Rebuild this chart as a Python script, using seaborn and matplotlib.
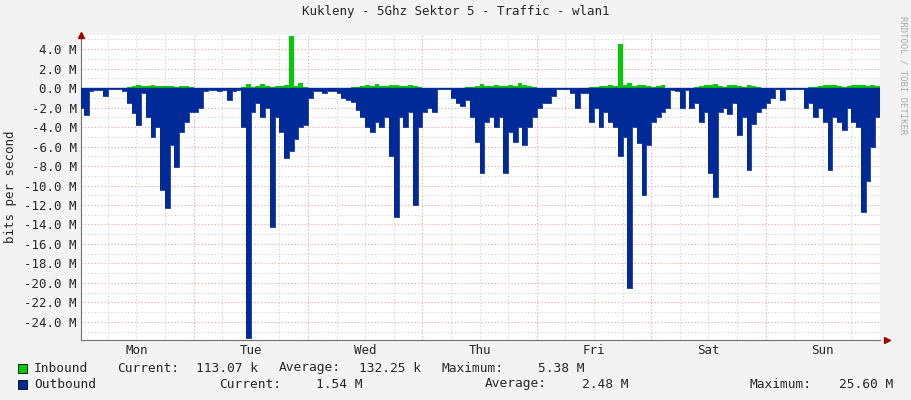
import numpy as np
import pandas as pd
import matplotlib
matplotlib.use("Agg")
import matplotlib.pyplot as plt
import seaborn as sns

title = "Kukleny - 5Ghz Sektor 5 - Traffic - wlan1"
day_labels = ["Mon", "Tue", "Wed", "Thu", "Fri", "Sat", "Sun"]

# outbound, Mbit/s, hourly from Monday 00:00
out_mon = [2.0, 2.8, 0.3, 0.2, 0.2, 0.8, 0.1, 0.1, 0.1, 0.3, 1.5, 2.6, 3.8, 0.5, 3.0, 5.0, 4.0, 10.5, 12.3, 5.8, 8.1, 4.5, 3.5, 2.5]
out_tue = [2.5, 2.0, 0.3, 0.2, 0.2, 0.3, 0.2, 1.2, 0.3, 0.2, 4.0, 25.6, 2.5, 1.5, 3.0, 2.0, 14.3, 3.0, 4.5, 7.2, 6.5, 5.2, 4.0, 3.8]
out_wed = [1.0, 0.3, 0.3, 0.5, 0.3, 0.3, 0.5, 1.0, 1.2, 1.4, 2.3, 3.0, 4.0, 4.5, 3.5, 4.0, 3.0, 7.0, 13.2, 3.0, 4.0, 2.5, 12.0, 4.0]
out_thu = [2.5, 2.0, 2.5, 0.1, 0.1, 0.1, 1.0, 1.5, 1.8, 1.2, 3.0, 5.5, 8.7, 3.5, 3.0, 4.0, 3.0, 8.7, 4.5, 5.5, 4.0, 5.8, 4.0, 3.0]
out_fri = [2.0, 1.5, 1.5, 0.8, 0.1, 0.1, 0.1, 0.5, 2.0, 0.5, 0.5, 3.5, 2.0, 4.0, 2.5, 3.5, 4.0, 7.0, 5.0, 20.5, 4.0, 5.6, 11.0, 5.8]
out_sat = [3.5, 3.0, 2.5, 2.0, 0.2, 0.3, 2.0, 0.2, 2.0, 1.5, 3.5, 2.5, 8.7, 11.2, 2.5, 2.0, 2.7, 1.5, 4.8, 3.0, 8.4, 3.7, 2.5, 2.0]
out_sun = [1.5, 1.0, 0.1, 1.2, 0.1, 0.1, 0.1, 0.1, 2.0, 1.5, 3.0, 2.0, 3.5, 8.4, 3.0, 3.5, 4.3, 2.0, 3.5, 4.0, 12.7, 9.5, 6.0, 3.0]

# inbound, Mbit/s, hourly
in_mon = [0.05, 0.02, 0.02, 0.02, 0.02, 0.02, 0.02, 0.02, 0.02, 0.05, 0.15, 0.2, 0.3, 0.2, 0.25, 0.3, 0.2, 0.2, 0.25, 0.2, 0.15, 0.2, 0.25, 0.1]
in_tue = [0.05, 0.02, 0.02, 0.02, 0.02, 0.02, 0.02, 0.02, 0.02, 0.02, 0.1, 0.4, 0.1, 0.2, 0.4, 0.2, 0.1, 0.2, 0.2, 0.3, 5.38, 0.2, 0.5, 0.1]
in_wed = [0.05, 0.02, 0.02, 0.02, 0.02, 0.02, 0.02, 0.02, 0.05, 0.1, 0.1, 0.2, 0.3, 0.2, 0.4, 0.2, 0.2, 0.3, 0.3, 0.2, 0.2, 0.3, 0.2, 0.1]
in_thu = [0.05, 0.02, 0.02, 0.02, 0.02, 0.02, 0.02, 0.02, 0.05, 0.1, 0.15, 0.2, 0.4, 0.2, 0.2, 0.3, 0.2, 0.2, 0.3, 0.2, 0.5, 0.3, 0.2, 0.1]
in_fri = [0.05, 0.02, 0.02, 0.02, 0.02, 0.02, 0.02, 0.02, 0.02, 0.02, 0.05, 0.1, 0.15, 0.2, 0.2, 0.3, 0.2, 4.5, 0.3, 0.5, 0.2, 0.3, 0.3, 0.2]
in_sat = [0.1, 0.2, 0.3, 0.05, 0.02, 0.02, 0.05, 0.02, 0.05, 0.1, 0.2, 0.3, 0.3, 0.4, 0.2, 0.1, 0.3, 0.3, 0.2, 0.1, 0.3, 0.2, 0.1, 0.05]
in_sun = [0.05, 0.02, 0.02, 0.02, 0.02, 0.02, 0.02, 0.02, 0.05, 0.1, 0.1, 0.2, 0.3, 0.3, 0.3, 0.2, 0.1, 0.2, 0.3, 0.3, 0.3, 0.2, 0.3, 0.2]

legend_names = ["Inbound", "Outbound"]
legend_current = ["113.07 k", "1.54 M"]
legend_average = ["132.25 k", "2.48 M"]
legend_maximum = ["5.38 M", "25.60 M"]

outbound = out_mon + out_tue + out_wed + out_thu + out_fri + out_sat + out_sun
inbound = in_mon + in_tue + in_wed + in_thu + in_fri + in_sat + in_sun
hours = list(range(len(outbound)))

df = pd.DataFrame({"hour": hours + [len(hours)],
                   "inb": inbound + [inbound[-1]],
                   "outb": [-v for v in outbound] + [-outbound[-1]]})

GREEN = "#00CC00"
BLUE = "#002A97"
sns.set_style("white")
plt.rcParams["font.family"] = "DejaVu Sans Mono"

fig = plt.figure(figsize=(9.11, 4.0), dpi=100, facecolor="#F3F3F3")
ax = fig.add_axes([81 / 911, 1 - 340 / 400, (880 - 81) / 911, (340 - 35) / 400])
ax.set_facecolor("white")

ax.fill_between(df["hour"], 0, df["outb"], step="post", color=BLUE, lw=0, zorder=3)
ax.fill_between(df["hour"], 0, df["inb"], step="post", color=GREEN, lw=0, zorder=2)
sns.lineplot(data=df, x="hour", y="outb", drawstyle="steps-post", color=BLUE, lw=0.6, ax=ax, zorder=3)
ax.axhline(0, color=BLUE, lw=1, zorder=4)

ax.set_xlim(0.4, 168)
ax.set_ylim(-25.85, 5.44)

# grid
for y in np.arange(-25, 6, 1):
    c = "#F0A0A0" if y % 2 == 0 else "#D0D0D0"
    ax.axhline(y, color=c, lw=0.8, ls=(0, (1, 2)), zorder=1)
for h in range(6, 169, 6):
    c = "#F0A0A0" if h % 24 == 0 else "#D0D0D0"
    ax.axvline(h, color=c, lw=0.8, ls=(0, (1, 2)), zorder=1)

fs = 9
yt = list(range(-24, 5, 2))
ax.set_yticks(yt)
ax.set_yticklabels([f"{v:.1f} M" for v in yt], fontsize=fs)
ax.set_xticks([12 + 24 * i for i in range(7)])
ax.set_xticklabels(day_labels, fontsize=fs)
ax.tick_params(length=0, pad=3)
for s in ["top", "right"]:
    ax.spines[s].set_visible(False)
for s in ["left", "bottom"]:
    ax.spines[s].set_color("#707070")
ax.set_xlabel("")
ax.set_ylabel("")
fig.text(11 / 911, 1 - 187 / 400, "bits per second", rotation=90, ha="center", va="center", fontsize=fs)
ax.plot([0.4], [5.44], marker="^", color="#A00000", ms=4, clip_on=False, zorder=6)
ax.plot([169.5], [-25.85], marker=">", color="#A00000", ms=4, clip_on=False, zorder=6)

fig.text(0.5, 1 - 12 / 400, title, ha="center", va="center", fontsize=fs)
fig.text(903 / 911, 1 - 75 / 400, "RRDTOOL / TOBI OETIKER", rotation=270, ha="center",
         va="center", fontsize=6.5, color="#AAAAAA")

# legend
lfs = 9.3
def sq(y, col):
    fig.patches.append(plt.Rectangle((18 / 911, 1 - (y + 4.5) / 400), 9 / 911, 9 / 400,
                                     transform=fig.transFigure, facecolor=col,
                                     edgecolor="black", lw=0.6))
def t(x, y, s, ha="left"):
    fig.text(x / 911, 1 - y / 400, s, fontsize=lfs, va="center", ha=ha)

rows = [(368, GREEN, (117, 258), (279, 421), (441, 585)),
        (384, BLUE, (219, 363), (485, 628), (749, 893))]
for i, (y, col, cur, avg, mx) in enumerate(rows):
    sq(y, col)
    t(34, y, legend_names[i])
    t(cur[0], y, "Current:")
    t(cur[1], y, legend_current[i], "right")
    t(avg[0], y, "Average:")
    t(avg[1], y, legend_average[i], "right")
    t(mx[0], y, "Maximum:")
    t(mx[1], y, legend_maximum[i], "right")

fig.savefig("out.png", dpi=100, facecolor=fig.get_facecolor())
